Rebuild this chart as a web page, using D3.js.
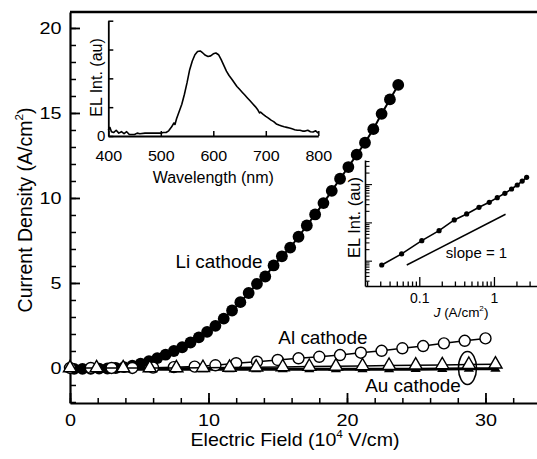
<!DOCTYPE html>
<html><head><meta charset="utf-8">
<script src="https://cdn.jsdelivr.net/npm/d3@7"></script>
<style>
body{margin:0;background:#fff;}
svg{display:block;font-family:"Liberation Sans",Arial,sans-serif;}
</style></head>
<body><svg id="c" width="537" height="459"></svg>
<script>
// ---------- DATA ----------
const liField = [0.3,0.9,1.5,2.1,2.7,3.3,3.9,4.5,5.1,5.7,6.3,6.9,7.5,8.1,8.7,9.3,9.9,10.5,11.1,11.7,12.3,12.9,13.5,14.1,14.7,15.3,15.9,16.5,17.1,17.7,18.3,18.9,19.5,20.1,20.7,21.3,21.9,22.5,23.1,23.7];
const liJ = [-0.05,-0.05,-0.05,-0.04,-0.03,0.0,0.05,0.13,0.26,0.4,0.58,0.78,1.0,1.22,1.5,1.8,2.12,2.48,2.9,3.38,3.87,4.41,4.95,5.38,6.03,6.57,7.08,7.72,8.38,9.03,9.7,10.42,11.13,11.82,12.55,13.25,14.05,14.95,15.8,16.65];
const alField = [0,1.5,3,4.5,6,7.5,9,10.5,12,13.5,15,16.5,18,19.5,21,22.5,24,25.5,27,28.5,30];
const alJ = [0,0,0,0,0.02,0.05,0.08,0.16,0.28,0.37,0.47,0.57,0.66,0.76,0.9,1.01,1.16,1.29,1.45,1.6,1.74];
const auField = [0,1.92,3.84,5.76,7.68,9.6,11.52,13.44,15.36,17.28,19.2,21.12,23.04,24.96,26.88,28.8,30.72];
const auJOpen = [0,0,0,0,0,0.02,0.03,0.05,0.06,0.08,0.1,0.12,0.14,0.16,0.18,0.2,0.22];
const auJFilled = [-0.08,-0.08,-0.08,-0.08,-0.08,-0.08,-0.08,-0.08,-0.08,-0.08,-0.08,-0.08,-0.08,-0.07,-0.06,-0.05,-0.05];
const xTicks = [0,10,20,30];
const yTicks = [0,5,10,15,20];

const specWl = [400,403,406,410,415,420,425,430,435,440,450,455,460,470,480,490,500,505,510,515,520,525,527,530,535,540,545,550,555,560,565,570,575,580,585,590,595,600,605,610,615,620,625,630,635,640,645,650,655,660,665,670,675,680,685,688,690,695,700,705,710,715,720,725,730,735,740,745,750,755,760,765,770,775,780,785,790,795,800];
const specInt = [0.2,0.3,0.15,0.12,0.2,0.1,0.15,0.08,0.15,0.05,0.05,0.1,0.08,0.1,0.1,0.1,0.1,0.12,0.12,0.18,0.3,0.45,0.4,0.6,0.85,1.1,1.45,1.85,2.3,2.6,2.82,2.93,2.95,2.88,2.8,2.76,2.78,2.85,2.88,2.82,2.65,2.45,2.25,2.1,1.98,1.85,1.72,1.62,1.52,1.42,1.32,1.22,1.12,1.02,0.9,0.8,0.83,0.75,0.68,0.62,0.55,0.5,0.42,0.38,0.35,0.32,0.3,0.28,0.25,0.22,0.2,0.2,0.17,0.17,0.2,0.15,0.14,0.18,0.1];
const specXTicks = [400,500,600,700,800];
const specYTicks = [0,1,2,3,4];

const elJ = [0.0314,0.058,0.108,0.184,0.294,0.431,0.63,0.865,1.107,1.40,1.72,2.05,2.39,2.74];
const elInt = [0.77,1.50,3.33,6.07,11.6,16.6,24.8,33.5,44.2,57.5,74.5,94.8,120,150];
const slopeJ = [0.068,1.43];
const slopeEL = [0.77,16.3];
const elXLabels = [0.1,1];

// ---------- HELPERS ----------
const svg = d3.select("#c");
function txt(x,y,size,sx,anchor,parts,rot){
  const t = svg.append("text")
    .attr("transform",`translate(${x},${y})${rot?` rotate(${rot})`:""} scale(${sx},1)`)
    .attr("text-anchor",anchor).style("font-size",size+"px").attr("fill","#000");
  parts.forEach(p=>{
    const ts = t.append("tspan").text(p.t);
    if(p.sup){ts.style("font-size",(size*0.6)+"px").attr("dy",-size*0.42);}
    if(p.after){ts.attr("dy",size*0.42);}
    if(p.it){ts.style("font-style","italic");}
  });
  return t;
}

// ---------- MAIN CHART ----------
const x = d3.scaleLinear().domain([0,33.72]).range([70,537]);
const y = d3.scaleLinear().domain([-2.06,20.94]).range([403,12]);

// minor ticks
svg.append("g").attr("transform","translate(0,403)")
  .call(d3.axisBottom(x).tickValues(d3.range(0,34,2)).tickSize(-5).tickSizeOuter(0).tickFormat(""))
  .call(g=>g.select(".domain").remove()).selectAll("line").attr("stroke-width",1.5);
svg.append("g").attr("transform","translate(70,0)")
  .call(d3.axisLeft(y).tickValues(d3.range(-2,21,1)).tickSize(-6).tickSizeOuter(0).tickFormat(""))
  .call(g=>g.select(".domain").remove()).selectAll("line").attr("stroke-width",1.5);

const gx = svg.append("g").attr("transform","translate(0,403)")
  .call(d3.axisBottom(x).tickValues(xTicks).tickSize(-10).tickSizeOuter(0).tickPadding(11));
gx.select(".domain").attr("stroke-width",2.2);
gx.selectAll("line").attr("stroke-width",1.8);
gx.selectAll("text").style("font-size","16.5px").style("font-family","Liberation Sans, Arial").attr("transform","scale(1.2,1)");

const gy = svg.append("g").attr("transform","translate(70,0)")
  .call(d3.axisLeft(y).tickValues(yTicks).tickSize(-10).tickSizeOuter(0).tickPadding(7));
gy.select(".domain").attr("stroke-width",2.2);
gy.selectAll("line").attr("stroke-width",1.8);
gy.selectAll("text").style("font-size","16.5px").style("font-family","Liberation Sans, Arial").attr("transform","scale(1.2,1)");

// top frame
svg.append("line").attr("x1",x(0)).attr("x2",x(33.72)).attr("y1",y(20.94)).attr("y2",y(20.94))
  .attr("stroke","#000").attr("stroke-width",2.6);

const line = d3.line().x(d=>x(d[0])).y(d=>y(d[1]));
const li = liField.map((v,i)=>[v,liJ[i]]);
const al = alField.map((v,i)=>[v,alJ[i]]);
const auO = auField.map((v,i)=>[v,auJOpen[i]]);
const auF = auField.map((v,i)=>[v,auJFilled[i]]);

// Li
svg.append("path").attr("d",line(li)).attr("fill","none").attr("stroke","#000").attr("stroke-width",2);
svg.append("g").selectAll("circle").data(li).join("circle")
  .attr("cx",d=>x(d[0])).attr("cy",d=>y(d[1])).attr("r",5.9).attr("fill","#000");
// Au filled
svg.append("path").attr("d",line(auF)).attr("fill","none").attr("stroke","#000").attr("stroke-width",3);
svg.append("g").selectAll("path").data(auF).join("path")
  .attr("transform",d=>`translate(${x(d[0])},${y(d[1])})`)
  .attr("d",d3.symbol(d3.symbolTriangle,45)()).attr("fill","#000");
// Al
svg.append("path").attr("d",line(al)).attr("fill","none").attr("stroke","#000").attr("stroke-width",1.5);
svg.append("g").selectAll("circle").data(al).join("circle")
  .attr("cx",d=>x(d[0])).attr("cy",d=>y(d[1])).attr("r",5.5).attr("fill","#fff").attr("stroke","#000").attr("stroke-width",1.4);
// Au open
svg.append("path").attr("d",line(auO)).attr("fill","none").attr("stroke","#000").attr("stroke-width",1.5);
svg.append("g").selectAll("path").data(auO).join("path")
  .attr("transform",d=>`translate(${x(d[0])},${y(d[1])})`)
  .attr("d",d3.symbol(d3.symbolTriangle,75)()).attr("fill","#fff").attr("stroke","#000").attr("stroke-width",1.4);

// ellipse annotation
svg.append("ellipse").attr("cx",x(28.7)).attr("cy",y(0)).attr("rx",9).attr("ry",16.5)
  .attr("fill","none").attr("stroke","#000").attr("stroke-width",1.5);

// labels
txt(219,268,17.5,1.08,"middle",[{t:"Li cathode"}]);
txt(323,344.3,17.5,1.08,"middle",[{t:"Al cathode"}]);
txt(413,391.7,17.5,1.08,"middle",[{t:"Au cathode"}]);
txt(295,446,18.5,1.06,"middle",[{t:"Electric Field (10"},{t:"4",sup:true},{t:" V/cm)",after:true}]);
txt(31.5,210,19.5,1.0,"middle",[{t:"Current Density  (A/cm"},{t:"2",sup:true},{t:")",after:true}],-90);

// ---------- SPECTRUM INSET ----------
const xs = d3.scaleLinear().domain([400,800]).range([108.3,318.3]);
const ys = d3.scaleLinear().domain([0,4]).range([136,20.7]);
const sgx = svg.append("g").attr("transform","translate(0,136)")
  .call(d3.axisBottom(xs).tickValues(specXTicks).tickSize(-5).tickSizeOuter(0).tickPadding(14));
sgx.select(".domain").attr("stroke-width",1.8);
sgx.selectAll("line").attr("stroke-width",1.5);
sgx.selectAll("text").style("font-size","15px").style("font-family","Liberation Sans, Arial").attr("transform","scale(1.07,1)");
const sgy = svg.append("g").attr("transform","translate(108.3,0)")
  .call(d3.axisLeft(ys).tickValues(specYTicks).tickSize(-5).tickSizeOuter(0).tickPadding(3).tickFormat(d=>d===0?"0":""));
sgy.select(".domain").attr("stroke-width",1.8);
sgy.selectAll("line").attr("stroke-width",1.5);
sgy.selectAll("text").style("font-size","15px").style("font-family","Liberation Sans, Arial");
const sLine = d3.line().x((d,i)=>xs(specWl[i])).y((d,i)=>ys(specInt[i]));
svg.append("path").attr("d",sLine(specWl)).attr("fill","none").attr("stroke","#000").attr("stroke-width",1.6).attr("stroke-linejoin","round");
txt(213.3,183.3,16,1.0,"middle",[{t:"Wavelength (nm)"}]);
txt(102,77.5,16,1.0,"middle",[{t:"EL Int. (au)"}],-90);

// ---------- EL vs J INSET ----------
const xl = d3.scaleLog().domain([0.01875,3.77]).range([365,537]);
const yl = d3.scaleLog().domain([0.218,426]).range([286,160]);
const lgx = svg.append("g").attr("transform","translate(0,286)");
lgx.call(d3.axisBottom(xl).tickValues(xl.ticks()).tickSizeOuter(0).tickSize(0).tickFormat(""));
lgx.select(".domain").attr("stroke-width",1.6);
lgx.selectAll(".tick line").attr("y2",d=>{const l=Math.log10(d);return Math.abs(l-Math.round(l))<1e-6?-9:-4.5;}).attr("stroke-width",1.3);
lgx.selectAll(".tick").filter(d=>elXLabels.some(v=>Math.abs(v-d)<1e-9)).append("text")
  .attr("y",16.5).attr("fill","#000").attr("text-anchor","middle").style("font-size","14px")
  .text(d=>d===1?"1":"0.1");
const lgy = svg.append("g").attr("transform","translate(365,0)");
lgy.call(d3.axisLeft(yl).tickValues(yl.ticks()).tickSizeOuter(0).tickSize(0).tickFormat(""));
lgy.select(".domain").attr("stroke-width",1.6);
lgy.selectAll(".tick line").attr("x2",d=>{const l=Math.log10(d);return Math.abs(l-Math.round(l))<1e-6?7:4.5;}).attr("stroke-width",1.1);
const lLine = d3.line().x(d=>xl(d[0])).y(d=>yl(d[1]));
const elPts = elJ.map((v,i)=>[v,elInt[i]]);
svg.append("path").attr("d",lLine(elPts)).attr("fill","none").attr("stroke","#000").attr("stroke-width",1.6);
svg.append("g").selectAll("circle").data(elPts).join("circle")
  .attr("cx",d=>xl(d[0])).attr("cy",d=>yl(d[1])).attr("r",2.6).attr("fill","#000");
svg.append("path").attr("d",lLine(slopeJ.map((v,i)=>[v,slopeEL[i]]))).attr("fill","none").attr("stroke","#000").attr("stroke-width",1.5);
txt(476.5,257.5,15,1.0,"middle",[{t:"slope = 1"}]);
txt(461,317,13.5,1.0,"middle",[{t:"J",it:true},{t:" (A/cm"},{t:"2",sup:true},{t:")",after:true}]);
txt(360,217.5,16.5,1.0,"middle",[{t:"EL Int. (au)"}],-90);
</script></body></html>
